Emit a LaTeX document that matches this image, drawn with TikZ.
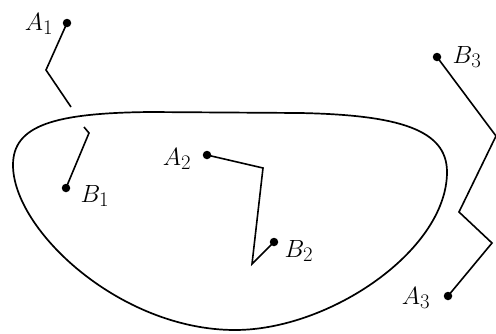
\documentclass[tikz,border=0pt]{standalone}
\begin{document}
\begin{tikzpicture}[x=1pt,y=-1pt,
  dot/.style={circle,fill=black,inner sep=0pt,minimum size=8.5pt},
  lbl/.style={inner sep=0pt,font=\Huge},
  seg/.style={line width=1.6pt,line join=miter},
  bound/.style={line width=1.7pt}]
\useasboundingbox (0,0) rectangle (496,333);
% closed curve
\draw[bound] (13,165) .. controls (13,125) and (55,113) .. (150,112)
  -- (300,113) .. controls (400,115) and (447,130) .. (447,172)
  .. controls (447,250) and (330,330) .. (235,330)
  .. controls (120,330) and (13,230) .. cycle;
% dots
\node[dot] (A1) at (67,23) {};
\node[dot] (B1) at (66,188) {};
\node[dot] (A2) at (207,155) {};
\node[dot] (B2) at (274,242) {};
\node[dot] (B3) at (437,57) {};
\node[dot] (A3) at (448,296) {};
% labels
\node[lbl] (lA1) at (39,24) {$A_1$};
\node[lbl] (lB1) at (95,196) {$B_1$};
\node[lbl] (lA2) at (177,159) {$A_2$};
\node[lbl] (lB2) at (299,251) {$B_2$};
\node[lbl] (lB3) at (467,57) {$B_3$};
\node[lbl] (lA3) at (416,298) {$A_3$};
% bends
\coordinate (p1) at (46,70);
\coordinate (p2) at (71,107);
\coordinate (q1) at (84,127);
\coordinate (q2) at (89,133);
\coordinate (r1) at (263,168);
\coordinate (r2) at (252,264);
\coordinate (s1) at (496,136);
\coordinate (s2) at (459,212);
\coordinate (s3) at (492,243);
% paths
\draw[seg] (A1.center) -- (p1) -- (p2);
\draw[seg] (q1) -- (q2) -- (B1.center);
\draw[seg] (A2.center) -- (r1) -- (r2) -- (B2.center);
\draw[seg] (B3.center) -- (s1) -- (s2) -- (s3) -- (A3.center);
\end{tikzpicture}
\end{document}
